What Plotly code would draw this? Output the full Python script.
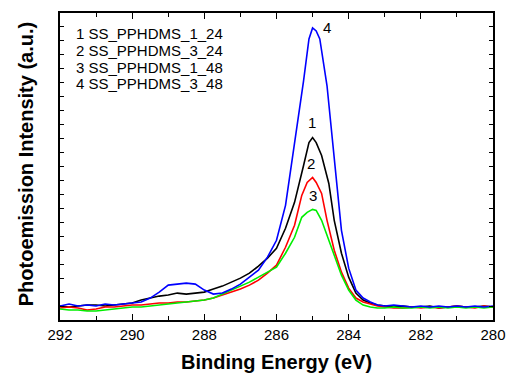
import plotly.graph_objects as go

# Binding energy (eV) and intensities (a.u.)
e_blue = [292, 291.75, 291.5, 291.25, 291, 290.75, 290.5, 290.25, 290, 289.75, 289.5, 289.25, 289, 288.75, 288.5, 288.25, 288, 287.75, 287.5, 287.25, 287, 286.75, 286.5, 286.25, 286, 285.75, 285.5, 285.25, 285.1, 285.0, 284.9, 284.8, 284.6, 284.4, 284.2, 284.0, 283.8, 283.6, 283.4, 283.2, 283, 282.75, 282.5, 282.25, 282, 281.75, 281.5, 281.25, 281, 280.75, 280.5, 280.25, 280]
i_blue = [14, 16, 14, 15, 14, 16, 15, 16, 17, 18, 22, 28, 35, 36, 37, 36, 30, 26, 27, 31, 36, 43, 50, 63, 80, 115, 175, 240, 282, 293, 290, 282, 235, 160, 90, 52, 30, 22, 18, 15, 14, 15, 14, 13, 14, 13, 14, 13, 14, 13, 14, 13, 14]

e_black = [292, 291.75, 291.5, 291.25, 291, 290.75, 290.5, 290.25, 290, 289.75, 289.5, 289.25, 289, 288.75, 288.5, 288.25, 288, 287.75, 287.5, 287.25, 287, 286.75, 286.5, 286.25, 286, 285.75, 285.5, 285.25, 285.1, 285.0, 284.9, 284.75, 284.55, 284.4, 284.2, 284.0, 283.8, 283.6, 283.4, 283.2, 283, 282.75, 282.5, 282.25, 282, 281.75, 281.5, 281.25, 281, 280.75, 280.5, 280.25, 280]
i_black = [14, 13, 14, 15, 15, 14, 15, 16, 17, 20, 22, 24, 25, 27, 26, 27, 28, 31, 34, 38, 42, 47, 54, 62, 72, 92, 118, 155, 178, 183, 178, 165, 137, 100, 67, 43, 27, 20, 17, 15, 14, 13, 14, 13, 13, 14, 12, 13, 14, 13, 13, 14, 13]

e_red = [292, 291.75, 291.5, 291.25, 291, 290.75, 290.5, 290.25, 290, 289.75, 289.5, 289.25, 289, 288.75, 288.5, 288.25, 288, 287.75, 287.5, 287.25, 287, 286.75, 286.5, 286.25, 286, 285.75, 285.5, 285.3, 285.15, 285.0, 284.9, 284.75, 284.6, 284.4, 284.2, 284.0, 283.8, 283.6, 283.4, 283.2, 283, 282.75, 282.5, 282.25, 282, 281.75, 281.5, 281.25, 281, 280.75, 280.5, 280.25, 280]
i_red = [12, 13, 12, 10, 11, 13, 13, 14, 15, 15, 16, 17, 17, 18, 18, 19, 20, 22, 25, 28, 31, 35, 40, 47, 55, 73, 95, 125, 138, 143, 138, 127, 100, 70, 48, 32, 22, 18, 16, 14, 13, 12, 12, 13, 12, 13, 12, 13, 14, 13, 12, 14, 13]

e_green = [292, 291.75, 291.5, 291.25, 291, 290.75, 290.5, 290.25, 290, 289.75, 289.5, 289.25, 289, 288.75, 288.5, 288.25, 288, 287.75, 287.5, 287.25, 287, 286.75, 286.5, 286.25, 286, 285.75, 285.5, 285.3, 285.15, 285.0, 284.9, 284.75, 284.6, 284.4, 284.2, 284.0, 283.8, 283.6, 283.4, 283.2, 283, 282.75, 282.5, 282.25, 282, 281.75, 281.5, 281.25, 281, 280.75, 280.5, 280.25, 280]
i_green = [11, 10, 10, 9, 9, 10, 11, 12, 13, 13, 14, 15, 16, 17, 18, 19, 20, 22, 26, 30, 34, 38, 43, 48, 53, 67, 83, 103, 108, 111, 110, 100, 85, 65, 45, 30, 20, 15, 13, 12, 12, 13, 12, 12, 13, 12, 13, 12, 13, 12, 13, 12, 13]

legend_lines = ["1 SS_PPHDMS_1_24", "2 SS_PPHDMS_3_24", "3 SS_PPHDMS_1_48", "4 SS_PPHDMS_3_48"]
peak_labels = ["1", "2", "3", "4"]
peak_label_e = [285.03, 285.05, 285.0, 284.6]
peak_label_i = [198, 157, 125, 293]

x_ticks = [292, 290, 288, 286, 284, 282, 280]

fig = go.Figure()
for e, i, c in [(e_black, i_black, "#000000"), (e_red, i_red, "#ff0000"),
                (e_green, i_green, "#00ee00"), (e_blue, i_blue, "#0000ff")]:
    fig.add_trace(go.Scatter(x=e, y=i, mode="lines", line=dict(color=c, width=1.6), showlegend=False))

font = "Liberation Sans, Arial, sans-serif"
for k, t in enumerate(legend_lines):
    fig.add_annotation(x=0.032, y=(320 - 33 - k * 16.7 - 12) / 308 + 12 / 308 - 0.0, xref="paper", yref="paper", text=t,
                       showarrow=False, xanchor="left", yanchor="middle",
                       font=dict(family=font, size=15, color="#000"))
for t, e, i in zip(peak_labels, peak_label_e, peak_label_i):
    fig.add_annotation(x=e, y=i, text=t, showarrow=False, xanchor="center", yanchor="middle",
                       font=dict(family=font, size=15, color="#000"))

fig.add_annotation(x=0.5, y=-0.137, xref="paper", yref="paper", text="<b>Binding Energy (eV)</b>",
                   showarrow=False, yanchor="middle", font=dict(family=font, size=20, color="#000"))
fig.add_annotation(x=-0.078, y=0.508, xref="paper", yref="paper", text="<b>Photoemission Intensity (a.u.)</b>",
                   showarrow=False, textangle=-90, xanchor="center", yanchor="middle",
                   font=dict(family=font, size=20, color="#000"))

fig.update_xaxes(range=[292, 280], tickvals=x_ticks, ticktext=[str(v) for v in x_ticks],
                 ticks="inside", ticklen=6, tickwidth=1.2, tickcolor="#000",
                 minor=dict(dtick=1, tick0=280, ticks="inside", ticklen=4, tickcolor="#000"),
                 showline=True, linecolor="#000", linewidth=1.5, mirror="allticks",
                 showgrid=False, zeroline=False,
                 tickfont=dict(family=font, size=15, color="#000"))
fig.update_yaxes(range=[0, 308], dtick=14, tick0=0, ticks="inside", ticklen=4, tickwidth=1.2,
                 tickcolor="#000", showticklabels=False,
                 showline=True, linecolor="#000", linewidth=1.5, mirror="allticks",
                 showgrid=False, zeroline=False)

fig.update_layout(width=517, height=374, margin=dict(l=60, r=11, t=12, b=54),
                  paper_bgcolor="white", plot_bgcolor="white")
fig.write_html("out.html")
